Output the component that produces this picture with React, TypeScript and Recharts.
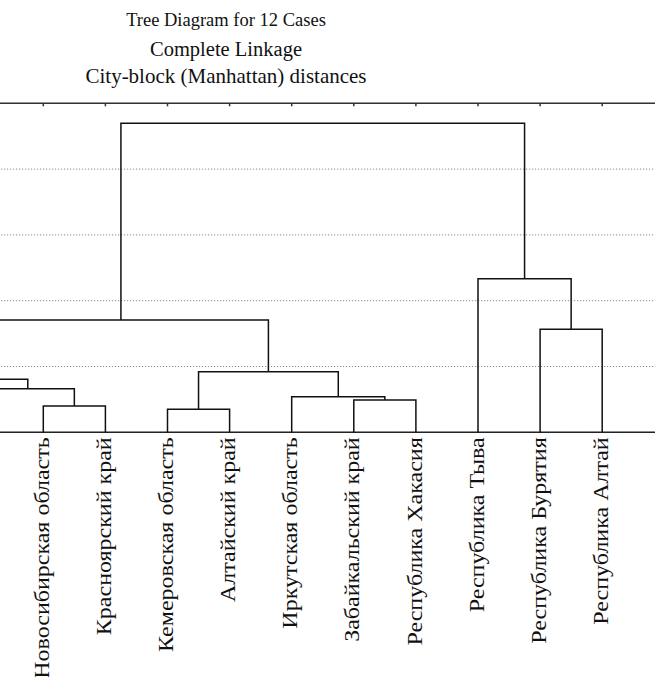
import React from "react";
import { ComposedChart, Scatter, XAxis, YAxis, CartesianGrid, ReferenceLine } from "recharts";

// leaf order as drawn left to right (the first two fall outside the cropped picture)
const leaves = [
  "Омская область",
  "Томская область",
  "Новосибирская область",
  "Красноярский край",
  "Кемеровская область",
  "Алтайский край",
  "Иркутская область",
  "Забайкальский край",
  "Республика Хакасия",
  "Республика Тыва",
  "Республика Бурятия",
  "Республика Алтай",
];

// merge k creates node 12 + k from mergeLeft[k] and mergeRight[k]
const mergeLeft = [2, 4, 7, 6, 1, 0, 13, 10, 17, 9, 20];
const mergeRight = [3, 5, 8, 14, 12, 16, 15, 11, 18, 19, 21];
const mergeHeight = [0.4, 0.35, 0.49, 0.54, 0.66, 0.805, 0.92, 1.565, 1.707, 2.334, 4.696];

const distTicks = [0, 1, 2, 3, 4, 5];
const titles = ["Tree Diagram for 12 Cases", "Complete Linkage", "City-block (Manhattan) distances"];

const FONT = '"Liberation Serif", "Times New Roman", serif';
const STEP = 62.1;
const Y_AXIS_W = 60;
const PLOT_W = STEP * 13;
const CHART_W = Y_AXIS_W + PLOT_W + 10;
const PLOT_LEFT = -143.3;
const PLOT_TOP = 103.3;
const PLOT_BOTTOM = 432.3;

function buildLinks() {
  const nodeX: number[] = leaves.map((_, i) => i);
  const nodeH: number[] = leaves.map(() => 0);
  const links: { x: number; y: number }[][] = [];
  mergeLeft.forEach((a, k) => {
    const b = mergeRight[k];
    const h = mergeHeight[k];
    links.push([
      { x: nodeX[a], y: nodeH[a] },
      { x: nodeX[a], y: h },
      { x: nodeX[b], y: h },
      { x: nodeX[b], y: nodeH[b] },
    ]);
    nodeX.push((nodeX[a] + nodeX[b]) / 2);
    nodeH.push(h);
  });
  return links;
}

const links = buildLinks();

function LeafLabel({ x, y, payload }: any) {
  const name = leaves[payload.value];
  return (
    <text
      x={0}
      y={0}
      transform={`translate(${x},${y + 5}) rotate(-90) scale(1,0.84)`}
      textAnchor="end"
      dy="0.28em"
      fontSize={24}
      fontFamily={FONT}
      fill="#111"
    >
      {name}
    </text>
  );
}

const titleStyle = (top: number, size: number): React.CSSProperties => ({
  position: "absolute",
  left: 0,
  width: 452,
  top,
  textAlign: "center",
  fontFamily: FONT,
  fontSize: size,
  lineHeight: 1,
  color: "#111",
  whiteSpace: "nowrap",
});

export default function App() {
  const tickLen = 3 * (5 / (PLOT_BOTTOM - PLOT_TOP));
  return (
    <div
      style={{
        position: "fixed",
        left: 0,
        top: 0,
        width: 655,
        height: 677,
        overflow: "hidden",
        background: "#fff",
      }}
    >
      <div style={titleStyle(11.2, 18.5)}>{titles[0]}</div>
      <div style={titleStyle(38.5, 20.5)}>{titles[1]}</div>
      <div style={titleStyle(65.5, 21)}>{titles[2]}</div>
      <div style={{ position: "absolute", left: PLOT_LEFT - Y_AXIS_W, top: 0 }}>
        <ComposedChart
          width={CHART_W}
          height={677}
          margin={{ top: PLOT_TOP, right: 10, bottom: 0, left: 0 }}
        >
          <CartesianGrid vertical={false} stroke="#8a8a8a" strokeDasharray="1.2 1.8" />
          <XAxis
            type="number"
            dataKey="x"
            domain={[-1, 12]}
            ticks={leaves.map((_, i) => i)}
            allowDataOverflow
            height={677 - PLOT_BOTTOM}
            tickLine={false}
            tickSize={0}
            tickMargin={0}
            axisLine={{ stroke: "#222", strokeWidth: 1.5 }}
            tick={<LeafLabel />}
            interval={0}
          />
          <YAxis
            type="number"
            dataKey="y"
            domain={[0, 5]}
            ticks={distTicks}
            width={Y_AXIS_W}
            tick={{ fontFamily: FONT, fontSize: 16, fill: "#111" }}
            axisLine={{ stroke: "#222" }}
          />
          <ReferenceLine y={5} stroke="#333" strokeWidth={1.5} ifOverflow="visible" />
          {leaves.map((_, i) => (
            <ReferenceLine
              key={`t${i}`}
              segment={[
                { x: i, y: 5 },
                { x: i, y: 5 - tickLen },
              ]}
              stroke="#333"
              strokeWidth={1.5}
              ifOverflow="visible"
            />
          ))}
          {links.map((pts, i) => (
            <Scatter
              key={i}
              data={pts}
              line={{ stroke: "#111", strokeWidth: 1.5 }}
              lineType="joint"
              shape={() => <g />}
              isAnimationActive={false}
              legendType="none"
            />
          ))}
        </ComposedChart>
      </div>
    </div>
  );
}
